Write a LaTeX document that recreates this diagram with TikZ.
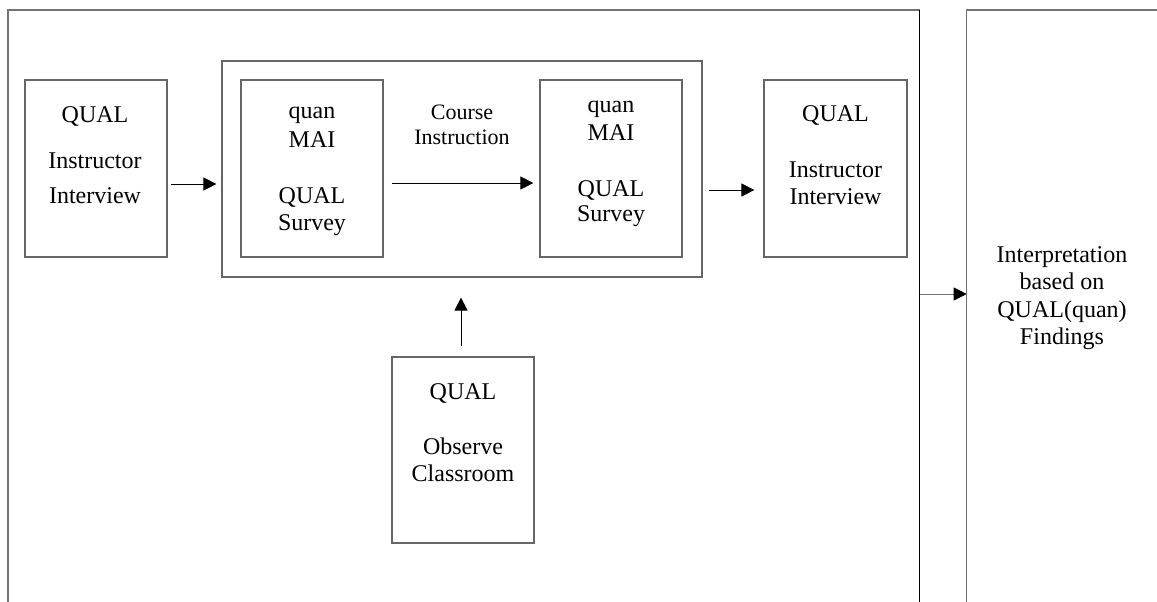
\documentclass[tikz,border=0pt]{standalone}
\usepackage{fontspec}
\setmainfont{Liberation Serif}
\usetikzlibrary{arrows.meta}
\begin{document}
\begin{tikzpicture}[x=0.5pt,y=-0.5pt,
  box/.style={draw=black!60,line width=0.6pt,rectangle,inner sep=0pt,minimum width=71pt,minimum height=88.5pt},
  frame/.style={draw=black!55,line width=0.7pt},
  lbl/.style={anchor=base,inner sep=0pt,font=\fontsize{12}{14}\selectfont},
  smalllbl/.style={anchor=base,inner sep=0pt,font=\fontsize{11}{13}\selectfont},
  arr/.style={-{Triangle[length=6.5pt,width=6.5pt,color=black]},line width=0.5pt,draw=black},
]
\useasboundingbox (0,0) rectangle (1157,601);
\clip (0,0) rectangle (1157,601);

% frames
\draw[frame] (8,640) -- (8,10) -- (919.5,10);
\draw[draw=black,line width=0.6pt] (919.5,10) -- (919.5,640);
\draw[frame] (966.7,640) -- (966.7,10) -- (1180,10);
\coordinate (frR) at (919.5,294);
\coordinate (frL) at (966.7,294);

% boxes
\node[box] (b1) at (96,168.5) {};
\node[box,minimum width=240pt,minimum height=108pt] (big) at (462,169) {};
\node[box] (in1) at (312,168.5) {};
\node[box] (in2) at (611,168.5) {};
\node[box,minimum width=71.5pt] (b2) at (835.5,168.5) {};
\node[box,minimum height=93pt] (obs) at (463,450) {};

% texts
\node[lbl] (t1a) at (95,122.7) {QUAL};
\node[lbl] (t1b) at (95,168) {Instructor};
\node[lbl] (t1c) at (95,203) {Interview};

\node[lbl] (t2a) at (312,118) {quan};
\node[lbl] (t2b) at (312,147) {MAI};
\node[lbl] (t2c) at (312,203) {QUAL};
\node[lbl] (t2d) at (312,230) {Survey};

\node[smalllbl] (ci1) at (462,119) {Course};
\node[smalllbl] (ci2) at (462,144) {Instruction};

\node[lbl] (t3a) at (611,112.7) {quan};
\node[lbl] (t3b) at (611,140) {MAI};
\node[lbl] (t3c) at (611,196.7) {QUAL};
\node[lbl] (t3d) at (611,221.7) {Survey};

\node[lbl] (t4a) at (835.5,121.7) {QUAL};
\node[lbl] (t4b) at (835.5,177) {Instructor};
\node[lbl] (t4c) at (835.5,204) {Interview};

\node[lbl] (t5a) at (463,399) {QUAL};
\node[lbl] (t5b) at (463,454) {Observe};
\node[lbl] (t5c) at (463,481.7) {Classroom};

\node[lbl] (t6a) at (1062,262) {Interpretation};
\node[lbl] (t6b) at (1062,289.5) {based on};
\node[lbl] (t6c) at (1062,317.5) {QUAL(quan)};
\node[lbl] (t6d) at (1062,344) {Findings};

% arrows
\coordinate (a1s) at ([shift={(3,15.5)}]b1.east);
\draw[arr,shorten >=2.5pt] (a1s) -- (a1s -| big.west);
\coordinate (a2s) at ([shift={(8,14.5)}]in1.east);
\draw[arr,shorten >=3pt] (a2s) -- (a2s -| in2.west);
\coordinate (a3s) at ([shift={(6,21)}]big.east);
\draw[arr,shorten >=4.5pt] (a3s) -- (a3s -| b2.west);
\coordinate (a4s) at ([shift={(-2,-10)}]obs.north);
\draw[arr,shorten >=10pt] (a4s) -- (a4s |- big.south);
\draw[arr,draw=black!55] (frR) -- (frL);
\end{tikzpicture}
\end{document}
